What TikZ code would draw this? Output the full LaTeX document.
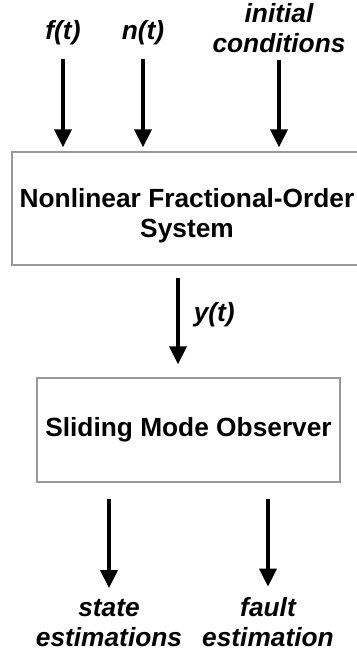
\documentclass[tikz,border=0pt]{standalone}
\usepackage{fontspec}
\setmainfont{Liberation Sans}
\usetikzlibrary{arrows.meta}

\tikzset{
  blockbox/.style={draw=black!40, line width=1.3pt, fill=white, align=center, inner sep=0pt,
    font=\fontsize{26.3}{30}\selectfont\bfseries},
  sigtext/.style={align=center, inner sep=0pt, font=\fontsize{26.3}{30}\selectfont\bfseries\itshape},
  flow/.style={line width=3.5pt, -{Triangle[length=18pt,width=17pt]}}
}

\begin{document}
\begin{tikzpicture}[x=1pt,y=-1pt]
		\useasboundingbox (0,0) rectangle (356,655);
		%%%%% START %%%%%
		\node[blockbox, minimum width=350pt, minimum height=113pt] (sys) at (187,208.5)
			{\rule{0pt}{32.5pt}Nonlinear Fractional-Order\\System};
		\node[blockbox, minimum width=303pt, minimum height=104pt] (smo) at (188.5,430)
			{Sliding Mode Observer};
		
		\node[sigtext, anchor=base] (ft) at (63,40) {f(t)};
		\node[sigtext, anchor=base] (nt) at (143,40) {n(t)};
		\node[sigtext] (ic) at (279,28) {initial\\conditions};
		
		\draw[flow, shorten >=4pt] ([yshift=-13.5pt]ft.south) -- (ft.south |- sys.north);
		\draw[flow, shorten >=4pt] ([yshift=-13.5pt]nt.south) -- (nt.south |- sys.north);
		\draw[flow, shorten >=4pt] ([yshift=-7pt]ic.south) -- (ic.south |- sys.north);
		
		\draw[flow, shorten <=12pt, shorten >=13pt] ([xshift=-9pt]sys.south) -- ([xshift=-9pt]sys.south |- smo.north)
			node[sigtext, midway, anchor=west, xshift=14pt, yshift=6.5pt] (yt) {y(t)};
		
		\node[sigtext] (se) at (109,623) {state\\estimations};
		\node[sigtext] (fe) at (268,622.5) {fault\\estimation};
		
		\draw[flow, shorten <=16pt, shorten >=11pt] (smo.south -| se.north) -- (se.north);
		\draw[flow, shorten <=16pt, shorten >=11pt] (smo.south -| fe.north) -- (fe.north);
		%%%%% END %%%%%
\end{tikzpicture}
\end{document}
